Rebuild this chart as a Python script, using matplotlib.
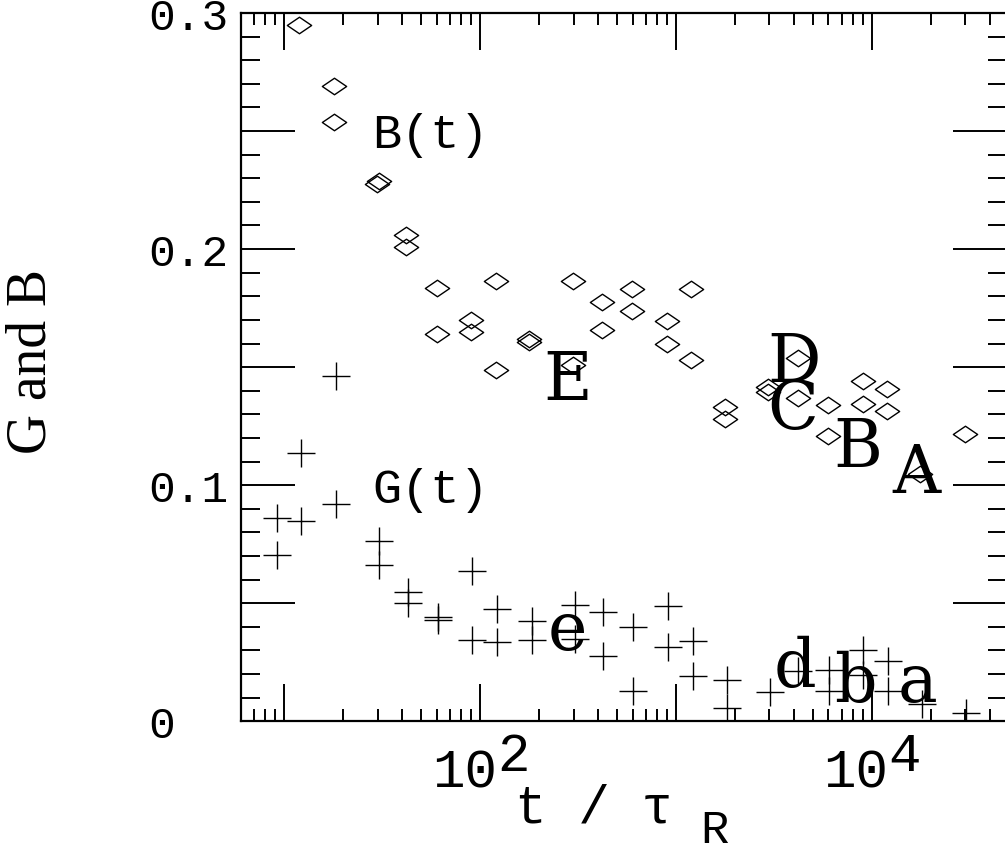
import matplotlib.pyplot as plt
from matplotlib.path import Path
from matplotlib.ticker import LogLocator, MultipleLocator, NullFormatter, FuncFormatter

plt.rcParams['font.family'] = ['Liberation Mono', 'DejaVu Sans']

# B(t), open diamonds
t_b = [11.9, 18.0, 18.0, 29.7, 30.3, 41.8, 41.8, 60, 60, 89.5, 89.5,
       119.7, 119.7, 178, 178, 299, 299, 418, 418, 594, 594, 898, 898,
       1190, 1190, 1782, 1782, 2965, 2965, 4190, 4190, 5957, 5957,
       9000, 9000, 11940, 11940, 17660, 30000]
b_val = [0.295, 0.269, 0.254, 0.2277, 0.2287, 0.2058, 0.2008, 0.1835, 0.164,
         0.170, 0.1648, 0.1863, 0.149, 0.1620, 0.1607, 0.1866, 0.1507,
         0.1778, 0.1658, 0.1832, 0.1736, 0.1697, 0.160, 0.1829, 0.1531,
         0.133, 0.128, 0.1415, 0.1394, 0.1540, 0.1371, 0.1338, 0.1208,
         0.1443, 0.1345, 0.1408, 0.1314, 0.1048, 0.1217]

# G(t), crosses
t_g = [9.15, 9.15, 12.2, 12.2, 18.4, 18.4, 30.5, 30.5, 42.7, 42.7,
       60.7, 60.7, 91.2, 91.2, 121.6, 121.6, 183.5, 183.5, 305, 305,
       423, 423, 605, 605, 914, 914, 1218, 1218, 1816, 1816, 3024,
       4190, 6070, 6070, 9060, 9060, 12150, 12150, 18000, 30300]
g_val = [0.0861, 0.0705, 0.1137, 0.0847, 0.1462, 0.0921, 0.0765, 0.0664,
         0.0547, 0.0500, 0.0441, 0.0427, 0.0636, 0.0344, 0.0476, 0.0335,
         0.0424, 0.0344, 0.0494, 0.0349, 0.0462, 0.0278, 0.0398, 0.0130,
         0.0490, 0.0314, 0.0342, 0.0193, 0.0176, 0.0056, 0.0125,
         0.0215, 0.0216, 0.0130, 0.0300, 0.0196, 0.0255, 0.0130, 0.0073,
         0.0034]

# run labels (upper case on B, lower case on G)
upper_names = ["E", "D", "C", "B", "A"]
upper_t = [281, 4009, 3963, 8515, 16830]
upper_y = [0.1366, 0.1442, 0.1243, 0.1082, 0.0972]
lower_names = ["e", "d", "b", "a"]
lower_t = [278, 4055, 8200, 17030]
lower_y = [0.0306, 0.0150, 0.0086, 0.0086]

W, H = 1005, 854
fig = plt.figure(figsize=(W / 100, H / 100), dpi=100)
ax = fig.add_axes([241 / W, 1 - 722.3 / H, (1007 - 241) / W, (722.3 - 14) / H])

diamond = Path([(-1, 0), (0, 0.68), (1, 0), (0, -0.68), (-1, 0)],
               [Path.MOVETO, Path.LINETO, Path.LINETO, Path.LINETO, Path.CLOSEPOLY])

ax.plot(t_b, b_val, ls='none', marker=diamond, ms=17.5, mfc='none',
        mec='black', mew=1.0)
ax.plot(t_g, g_val, ls='none', marker='+', ms=19.5, mec='black', mew=1.0)

ax.set_xscale('log')
ax.set_xlim(6, 4.9e4)
ax.set_ylim(0, 0.3)

for sp in ax.spines.values():
    sp.set_linewidth(1.6)

ax.xaxis.set_major_locator(LogLocator(base=10, numticks=10))
ax.xaxis.set_minor_locator(LogLocator(base=10, subs=range(2, 10), numticks=20))
ax.xaxis.set_major_formatter(NullFormatter())
ax.xaxis.set_minor_formatter(NullFormatter())
ax.yaxis.set_major_locator(MultipleLocator(0.05))
ax.yaxis.set_minor_locator(MultipleLocator(0.01))


def ylab(v, pos):
    if abs(v) < 1e-9:
        return '0'
    if abs(v * 10 - round(v * 10)) < 1e-6:
        return f'{v:.1f}'
    return ''


ax.yaxis.set_major_formatter(FuncFormatter(ylab))

ax.tick_params(which='both', direction='in', top=True, right=True,
               width=1.4, color='black')
ax.tick_params(axis='y', which='major', length=39, pad=67, labelsize=32)
ax.tick_params(axis='y', which='minor', length=13.7)
ax.tick_params(axis='x', which='major', length=26.6)
ax.tick_params(axis='x', which='minor', length=8.6)
for lbl in ax.get_yticklabels():
    lbl.set_ha('left')

# decade labels with full-size exponent
for dec, ex in [(1e2, '2'), (1e4, '4')]:
    ax.annotate('10', xy=(dec, 0), xycoords=ax.get_xaxis_transform(),
                xytext=(12, -46.6), textcoords='offset points',
                ha='right', va='baseline', fontsize=39)
    ax.annotate(ex, xy=(dec, 0), xycoords=ax.get_xaxis_transform(),
                xytext=(12, -34.8), textcoords='offset points',
                ha='left', va='baseline', fontsize=39)

ax.text(28.1, 0.2433, 'B(t)', fontsize=35, ha='left', va='baseline')
ax.text(28.1, 0.0929, 'G(t)', fontsize=35, ha='left', va='baseline')

for name, tx, ty in zip(upper_names, upper_t, upper_y):
    ax.text(tx, ty, name, fontsize=48, family='DejaVu Serif',
            ha='center', va='baseline')
for name, tx, ty in zip(lower_names, lower_t, lower_y):
    ax.text(tx, ty, name, fontsize=48, family='DejaVu Serif',
            ha='center', va='baseline')

# axis titles
fig.text(32 / W, 1 - 362 / H, 'G and B', rotation=90, fontsize=40,
         family='Liberation Serif', ha='center', va='center')
fig.text(515 / W, 1 - 823 / H, 't / \u03c4', fontsize=38,
         ha='left', va='baseline')
fig.text(700 / W, 1 - 843 / H, 'R', fontsize=34, ha='left', va='baseline')

fig.savefig('out.png', dpi=100)
